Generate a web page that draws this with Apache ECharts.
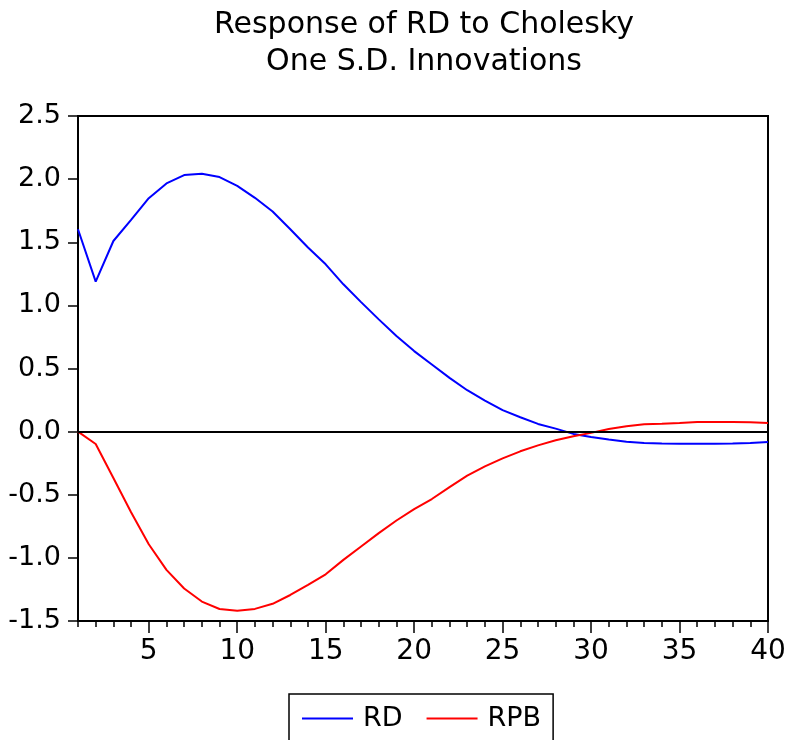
<!DOCTYPE html>
<html>
<head>
<meta charset="utf-8">
<script src="https://cdn.jsdelivr.net/npm/echarts@6/dist/echarts.min.js"></script>
<style>
html,body{margin:0;padding:0;background:#fff;}
#chart{width:790px;height:740px;}
</style>
</head>
<body>
<div id="chart"></div>
<script>
var periods = ['1','2','3','4','5','6','7','8','9','10','11','12','13','14','15','16','17','18','19','20','21','22','23','24','25','26','27','28','29','30','31','32','33','34','35','36','37','38','39','40'];
var rd = [1.603, 1.188, 1.51, 1.677, 1.849, 1.966, 2.032, 2.042, 2.016, 1.947, 1.852, 1.743, 1.603, 1.458, 1.325, 1.167, 1.026, 0.889, 0.757, 0.638, 0.532, 0.426, 0.328, 0.246, 0.17, 0.114, 0.061, 0.024, -0.018, -0.043, -0.063, -0.08, -0.09, -0.095, -0.096, -0.096, -0.096, -0.095, -0.09, -0.082];
var rpb = [0, -0.098, -0.368, -0.638, -0.892, -1.095, -1.243, -1.346, -1.405, -1.418, -1.404, -1.364, -1.294, -1.214, -1.13, -1.016, -0.91, -0.804, -0.704, -0.614, -0.534, -0.439, -0.349, -0.275, -0.212, -0.156, -0.109, -0.069, -0.037, -0.01, 0.02, 0.042, 0.058, 0.063, 0.069, 0.077, 0.077, 0.077, 0.074, 0.069];
var titleLines = ['Response of RD to Cholesky', 'One S.D. Innovations'];
var seriesNames = ['RD', 'RPB'];

var FONT = '"DejaVu Sans", "Liberation Sans", Arial, sans-serif';
var chart = echarts.init(document.getElementById('chart'), null, {renderer: 'canvas'});
chart.setOption({
  animation: false,
  backgroundColor: '#fff',
  title: {
    text: titleLines.join('\n'),
    left: 424,
    textAlign: 'center',
    top: 7,
    padding: 0,
    textStyle: {fontFamily: FONT, fontSize: 30, fontWeight: 'normal', color: '#000', lineHeight: 37}
  },
  legend: {
    data: seriesNames,
    left: 289,
    top: 694,
    orient: 'horizontal',
    icon: 'rect',
    padding: [11, 12, 11, 13],
    itemWidth: 51,
    itemHeight: 2,
    itemGap: 24,
    borderColor: '#000',
    borderWidth: 1.5,
    textStyle: {fontFamily: FONT, fontSize: 27, color: '#000', padding: [0, 0, 0, 5]}
  },
  grid: {
    left: 78, right: 22, top: 116, bottom: 119,
    show: true, borderColor: '#000', borderWidth: 2, backgroundColor: '#fff'
  },
  xAxis: [{
    type: 'category',
    data: periods,
    boundaryGap: false,
    axisLine: {onZero: false, lineStyle: {color: '#000', width: 2}},
    axisTick: {show: true, interval: 0, length: 6, inside: false, lineStyle: {color: '#000', width: 1.5}},
    axisLabel: {
      interval: function (i, v) { return Number(v) % 5 === 0; },
      fontFamily: FONT, fontSize: 28, color: '#000', margin: 17
    },
    splitLine: {show: false}
  }, {
    type: 'category',
    data: periods,
    position: 'bottom',
    boundaryGap: false,
    axisLine: {show: false, onZero: false},
    axisTick: {show: true, length: 12, interval: function (i, v) { return Number(v) % 5 === 0; }, lineStyle: {color: '#000', width: 1.5}},
    axisLabel: {show: false},
    splitLine: {show: false}
  }],
  yAxis: {
    type: 'value',
    min: -1.5, max: 2.5, interval: 0.5,
    axisLine: {show: true, lineStyle: {color: '#000', width: 2}},
    axisTick: {show: true, length: 10, lineStyle: {color: '#000', width: 1.5}},
    axisLabel: {
      formatter: function (v) { return v.toFixed(1); },
      fontFamily: FONT, fontSize: 27, color: '#000', margin: 17
    },
    splitLine: {show: false}
  },
  series: [{
    name: seriesNames[0],
    type: 'line',
    data: rd,
    showSymbol: false,
    symbol: 'none',
    lineStyle: {color: '#0000ff', width: 2},
    itemStyle: {color: '#0000ff'},
    z: 3,
    markLine: {
      silent: true,
      symbol: ['none', 'none'],
      label: {show: false},
      lineStyle: {color: '#000', width: 2, type: 'solid'},
      data: [{yAxis: 0}]
    }
  }, {
    name: seriesNames[1],
    type: 'line',
    data: rpb,
    showSymbol: false,
    symbol: 'none',
    lineStyle: {color: '#ff0000', width: 2},
    itemStyle: {color: '#ff0000'},
    z: 3
  }]
});
</script>
</body>
</html>
